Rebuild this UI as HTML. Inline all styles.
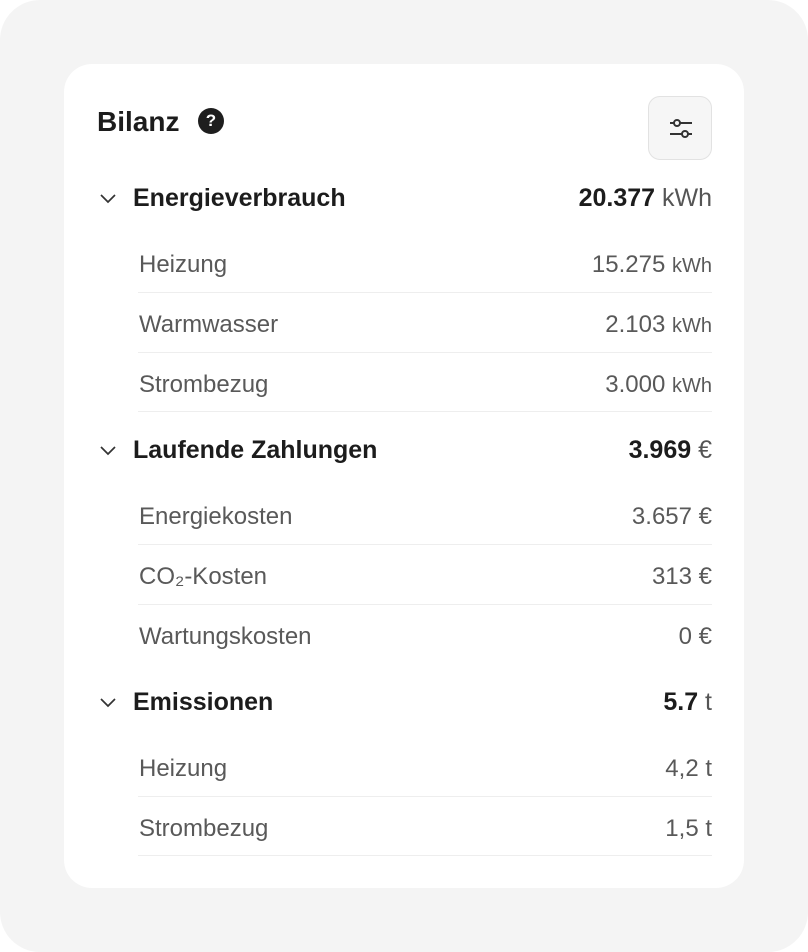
<!DOCTYPE html>
<html><head><meta charset="utf-8"><style>
*{margin:0;padding:0;box-sizing:border-box}
html,body{width:808px;height:952px;background:#fff;overflow:hidden}
body{font-family:"Liberation Sans",sans-serif;position:relative}
.bg{position:absolute;left:0;top:0;width:808px;height:952px;background:#f4f4f4;border-radius:40px}
.card{position:absolute;left:64px;top:64px;width:680px;height:824px;background:#fff;border-radius:28px}
.t{position:absolute;white-space:nowrap;line-height:1}
.title{left:97px;top:108px;font-size:28px;font-weight:bold;color:#1c1c1c}
.help{position:absolute;left:198px;top:108px;width:26px;height:26px;border-radius:50%;background:#1e1e1e;color:#fff;font-size:17px;font-weight:bold;text-align:center;line-height:26px}
.btn{position:absolute;left:648px;top:96px;width:64px;height:64px;border-radius:12px;background:#f6f6f6;border:1.5px solid #e2e2e2}
.h{font-size:25px;font-weight:bold;color:#1c1c1c}
.s{font-size:24px;color:#595959}
.r{right:96px;text-align:right}
.u{font-weight:normal;color:#555}
.su{font-size:20px}
.line{position:absolute;left:138px;width:574px;height:1px;background:#eeeeee}
.chev{position:absolute;left:99px}
</style></head><body>
<div class="bg"></div>
<div class="card"></div>
<div class="t title">Bilanz</div>
<div class="help">?</div>
<div class="btn"><svg width="64" height="64" viewBox="0 0 64 64"><g stroke="#333" stroke-width="2" fill="#f6f6f6"><line x1="21" y1="26" x2="43" y2="26"/><line x1="21" y1="37" x2="43" y2="37"/><circle cx="28" cy="26" r="3"/><circle cx="36" cy="37" r="3"/></g></svg></div>

<svg class="chev" style="top:193px" width="18" height="12"><polyline points="2,2 9,9 16,2" fill="none" stroke="#333" stroke-width="1.7"/></svg>
<div class="t h" style="left:133px;top:186px">Energieverbrauch</div>
<div class="t h r" style="top:186px">20.377 <span class="u">kWh</span></div>
<div class="t s" style="left:139px;top:253px">Heizung</div>
<div class="t s r" style="top:253px">15.275 <span class="su">kWh</span></div>
<div class="line" style="top:292px"></div>
<div class="t s" style="left:139px;top:313px">Warmwasser</div>
<div class="t s r" style="top:313px">2.103 <span class="su">kWh</span></div>
<div class="line" style="top:352px"></div>
<div class="t s" style="left:139px;top:373px">Strombezug</div>
<div class="t s r" style="top:373px">3.000 <span class="su">kWh</span></div>
<div class="line" style="top:411px"></div>

<svg class="chev" style="top:445px" width="18" height="12"><polyline points="2,2 9,9 16,2" fill="none" stroke="#333" stroke-width="1.7"/></svg>
<div class="t h" style="left:133px;top:438px">Laufende Zahlungen</div>
<div class="t h r" style="top:438px">3.969 <span class="u">€</span></div>
<div class="t s" style="left:139px;top:505px">Energiekosten</div>
<div class="t s r" style="top:505px">3.657 €</div>
<div class="line" style="top:544px"></div>
<div class="t s" style="left:139px;top:565px">CO₂-Kosten</div>
<div class="t s r" style="top:565px">313 €</div>
<div class="line" style="top:604px"></div>
<div class="t s" style="left:139px;top:625px">Wartungskosten</div>
<div class="t s r" style="top:625px">0 €</div>

<svg class="chev" style="top:697px" width="18" height="12"><polyline points="2,2 9,9 16,2" fill="none" stroke="#333" stroke-width="1.7"/></svg>
<div class="t h" style="left:133px;top:690px">Emissionen</div>
<div class="t h r" style="top:690px">5.7 <span class="u">t</span></div>
<div class="t s" style="left:139px;top:757px">Heizung</div>
<div class="t s r" style="top:757px">4,2 t</div>
<div class="line" style="top:796px"></div>
<div class="t s" style="left:139px;top:817px">Strombezug</div>
<div class="t s r" style="top:817px">1,5 t</div>
<div class="line" style="top:855px"></div>
</body></html>
